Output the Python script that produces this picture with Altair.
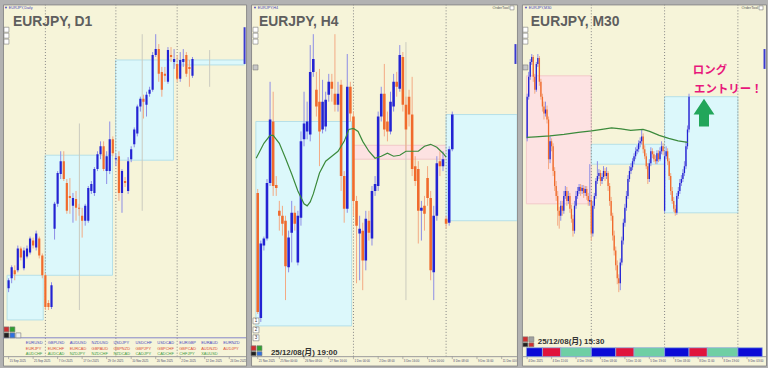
import altair as alt
import pandas as pd

# ---------------------------------------------------------------- styling
SANS = "Liberation Sans, Arial, DejaVu Sans, Noto Sans CJK JP, sans-serif"
JP = "Noto Sans CJK JP, sans-serif"
CREAM = "#f6f4d9"
FRAME = "#b2b2b2"
BULL, BEAR = "#2323d3", "#f06a2c"
BULL_WICK, BEAR_WICK = "#8c8ce6", "#f3a983"
CYAN, CYAN_EDGE = "#dcf8fb", "#b5e0e8"
PINK, PINK_EDGE = "#fde2e2", "#f2c9c9"
MA_GREEN = "#3b8a3b"
SEP_GRAY = "#858585"
MID_GRAY = "#cbcbbf"
TITLE_GRAY = "#5e5e5e"
LABEL_BLUE = "#3a3ab4"
AXIS_TEXT = "#4a4a6e"
PANEL_H = 364
STRIP_TOP = 355

# ---------------------------------------------------------------- EURJPY D1
D1_OPEN = [172.48, 172.88, 173.20, 173.20, 174.08, 173.28, 173.76, 173.92, 174.40, 174.12,
           174.48, 173.80, 173.00, 171.88, 171.72, 174.88, 175.88, 177.08, 177.60, 176.72,
           176.20, 175.80, 176.08, 175.72, 175.40, 175.20, 175.20, 176.40, 176.32, 177.28,
           177.88, 178.20, 177.20, 177.20, 178.48, 177.68, 177.80, 176.32, 176.80, 176.40,
           177.68, 178.28, 178.72, 179.80, 180.12, 179.88, 180.32, 180.48, 181.88, 182.12,
           181.20, 181.12, 180.80, 181.88, 181.60, 181.52, 180.92, 181.60, 181.88, 181.40,
           181.04]
D1_HIGH = [172.88, 173.40, 173.40, 174.20, 174.16, 174.12, 174.20, 174.56, 174.52, 174.80,
           174.56, 173.88, 173.08, 172.00, 172.72, 175.96, 177.20, 178.00, 178.00, 176.88,
           176.92, 176.32, 176.40, 175.88, 175.72, 175.88, 176.60, 176.80, 177.36, 178.00,
           178.40, 178.40, 178.00, 179.20, 178.60, 177.88, 178.00, 177.28, 176.96, 177.76,
           178.20, 178.96, 179.88, 180.20, 180.28, 180.40, 180.60, 182.00, 182.72, 182.32,
           181.40, 181.40, 182.20, 182.20, 182.12, 181.88, 182.00, 182.12, 182.00, 181.68,
           181.80]
D1_LOW = [172.32, 172.68, 172.80, 173.12, 173.60, 173.20, 173.68, 173.84, 174.08, 174.00,
          173.68, 172.88, 171.60, 171.60, 171.64, 174.44, 175.76, 176.88, 176.80, 175.48,
          175.48, 175.12, 175.20, 175.40, 174.52, 175.00, 175.12, 176.28, 176.20, 177.20,
          177.68, 177.20, 176.68, 177.08, 177.80, 177.40, 176.00, 175.52, 176.56, 176.28,
          177.56, 178.16, 178.60, 179.60, 179.32, 179.40, 180.20, 180.40, 181.80, 180.80,
          180.20, 180.80, 180.72, 181.60, 181.32, 180.80, 180.80, 181.40, 181.00, 180.60,
          180.96]
D1_CLOSE = [172.80, 173.32, 173.04, 174.08, 173.72, 174.00, 174.08, 174.48, 174.20, 174.68,
            173.80, 173.00, 171.72, 171.72, 172.60, 175.88, 177.12, 177.60, 176.88, 175.60,
            176.12, 176.12, 175.72, 175.68, 175.20, 175.80, 176.52, 176.68, 177.28, 177.88,
            178.20, 177.28, 177.80, 178.48, 177.92, 177.72, 176.32, 177.20, 176.72, 177.60,
            178.08, 178.88, 179.80, 180.12, 180.00, 180.28, 180.48, 181.88, 182.12, 181.12,
            180.48, 181.04, 182.08, 181.80, 181.72, 180.92, 181.68, 181.72, 181.12, 181.32,
            181.72]
D1_BOX_X0 = [-0.5, 11.9, 34.9, 54.1]
D1_BOX_X1 = [11.3, 33.9, 53.8, 77.0]
D1_BOX_TOP = [173.00, 177.84, 181.68, 181.68]
D1_BOX_BOTTOM = [171.20, 173.00, 177.64, 181.48]
D1_BOX_KIND = ["buy", "buy", "buy", "buy"]
D1_SEPARATORS = [12, 35, 55]
D1_MID_BAR = [23.1, 43.6, 65.6]
D1_MID_TOP = [179.12, 182.72, 182.08]
D1_MID_BOTTOM = [171.60, 175.60, 180.60]
D1_TICK_BAR = [0, 8, 16, 24, 32, 40, 48, 56, 64, 72]
D1_TICK_TEXT = ["15 Sep 2025", "25 Sep 2025", "7 Oct 2025", "17 Oct 2025", "29 Oct 2025",
                "10 Nov 2025", "20 Nov 2025", "2 Dec 2025", "12 Dec 2025", "24 Dec 2025"]
SYMBOLS_ROW1 = ["EURUSD", "GBPUSD", "AUDUSD", "NZDUSD", "USDJPY", "USDCHF", "USDCAD", "EURGBP", "EURAUD", "EURNZD"]
SYMBOLS_ROW2 = ["EURJPY", "EURCHF", "EURCAD", "GBPAUD", "GBPNZD", "GBPJPY", "GBPCHF", "GBPCAD", "AUDNZD", "AUDJPY"]
SYMBOLS_ROW3 = ["AUDCHF", "AUDCAD", "NZDJPY", "NZDCHF", "NZDCAD", "CADJPY", "CADCHF", "CHFJPY", "XAUUSD"]

# ---------------------------------------------------------------- EURJPY H4
H4_OPEN = [181.464, 180.456, 181.040, 181.096, 181.544, 182.040, 181.528, 181.320, 181.280, 181.240,
           180.864, 181.144, 181.304, 180.904, 181.264, 181.896, 181.960, 181.936, 182.440, 182.296,
           182.200, 181.976, 182.000, 182.256, 182.360, 182.264, 182.176, 182.336, 181.600, 181.336,
           182.320, 182.080, 181.400, 181.136, 181.160, 180.920, 181.240, 181.096, 181.480, 181.520,
           182.080, 182.264, 182.040, 181.960, 182.160, 182.360, 182.304, 182.560, 182.176, 182.240,
           182.096, 181.680, 181.656, 181.320, 181.360, 181.584, 181.424, 180.824, 181.280, 181.720,
           181.680, 181.256, 181.224, 181.816]
H4_HIGH = [181.496, 181.080, 181.112, 181.576, 182.360, 182.280, 181.600, 181.400, 181.360, 181.280,
           181.160, 181.400, 181.360, 181.320, 181.960, 182.280, 182.200, 182.656, 182.744, 182.440,
           182.464, 182.376, 182.280, 182.424, 182.424, 182.744, 182.360, 182.376, 181.640, 182.584,
           182.360, 182.120, 181.440, 181.280, 181.224, 181.320, 181.320, 181.520, 181.600, 182.120,
           182.320, 182.504, 182.120, 182.280, 182.424, 182.440, 182.656, 182.600, 182.240, 182.296,
           182.400, 181.760, 181.720, 181.400, 181.440, 181.680, 181.480, 181.360, 181.760, 181.800,
           181.800, 181.280, 181.840, 182.120]
H4_LOW = [180.488, 180.424, 181.000, 181.080, 181.520, 181.440, 181.440, 181.160, 181.120, 180.600,
          180.824, 180.904, 181.160, 180.880, 181.200, 181.840, 181.896, 181.880, 182.400, 182.080,
          181.680, 181.944, 181.960, 182.200, 182.200, 182.120, 182.120, 181.480, 181.224, 181.304,
          182.040, 181.280, 180.736, 180.760, 180.680, 180.840, 181.080, 181.040, 181.440, 181.480,
          182.040, 181.920, 181.880, 181.936, 182.120, 182.240, 182.280, 182.120, 181.800, 182.000,
          181.600, 181.520, 181.056, 181.080, 181.160, 181.360, 180.760, 180.600, 181.240, 181.600,
          181.640, 181.176, 181.200, 181.800]
H4_CLOSE = [180.504, 181.056, 181.096, 181.544, 182.056, 181.520, 181.504, 181.280, 181.216, 180.872,
            181.104, 181.304, 181.216, 181.280, 181.880, 182.024, 182.040, 182.440, 182.544, 182.160,
            181.960, 182.200, 182.216, 182.360, 182.304, 182.176, 182.264, 181.600, 181.336, 182.320,
            182.104, 181.400, 181.200, 181.176, 180.920, 181.256, 181.144, 181.480, 181.536, 182.080,
            182.264, 181.976, 181.960, 182.200, 182.360, 182.320, 182.576, 182.176, 181.976, 182.096,
            181.656, 181.560, 181.320, 181.344, 181.296, 181.424, 180.840, 181.280, 181.704, 181.680,
            181.736, 181.216, 181.816, 182.096]
H4_MA_BAR = [-0.5, 2, 4, 5, 7, 9, 11, 13, 15, 16, 17, 18, 20, 22, 24, 26, 28, 29.5, 31, 32.5,
             34, 36, 38, 40, 42, 44, 46, 48, 50, 52, 54, 56, 58, 60, 61]
H4_MA = [181.744, 181.864, 181.928, 181.928, 181.864, 181.744, 181.616, 181.480, 181.376, 181.360,
         181.392, 181.456, 181.624, 181.720, 181.760, 181.800, 181.880, 181.976, 181.984, 181.960,
         181.880, 181.800, 181.744, 181.760, 181.784, 181.760, 181.768, 181.800, 181.800, 181.800,
         181.840, 181.856, 181.832, 181.784, 181.752]
H4_BOX_X0 = [-0.6, 31, 61]
H4_BOX_X1 = [30.4, 61, 84]
H4_BOX_TOP = [182.040, 181.848, 182.096]
H4_BOX_BOTTOM = [180.392, 181.736, 181.240]
H4_BOX_KIND = ["buy", "sell", "buy"]
H4_SEPARATORS = [31, 61]
H4_MID_BAR = [48]
H4_MID_TOP = [182.68]
H4_MID_BOTTOM = [180.60]
H4_TICK_BAR = [0, 7, 15, 23, 31, 39, 47, 55, 63, 71, 79]
H4_TICK_TEXT = ["21 Nov 2025", "25 Nov 00:00", "26 Nov 08:00", "27 Nov 16:00", "1 Dec 00:00",
                "2 Dec 08:00", "3 Dec 16:00", "5 Dec 00:00", "8 Dec 08:00", "9 Dec 16:00", "11 Dec 00:00"]

# ---------------------------------------------------------------- EURJPY M30
M30_OPEN = [
    181.315, 181.525, 181.625, 181.700, 181.725, 181.625, 181.560, 181.690, 181.720, 181.600,
    181.525, 181.475, 181.440, 181.460, 181.410, 181.210, 181.300, 181.275, 181.150, 181.075,
    181.025, 180.950, 180.925, 180.975, 180.950, 181.025, 181.050, 181.000, 181.025, 180.960,
    180.910, 180.850, 180.975, 181.025, 181.050, 181.070, 181.050, 181.065, 181.040, 181.060,
    181.025, 180.995, 181.005, 180.835, 180.975, 181.025, 181.100, 181.125, 181.140, 181.100,
    181.120, 181.150, 181.125, 181.140, 181.075, 181.000, 180.925, 180.825, 180.750, 180.675,
    180.610, 180.585, 180.690, 180.800, 180.890, 180.965, 181.025, 181.110, 181.150, 181.170,
    181.200, 181.225, 181.250, 181.260, 181.290, 181.300, 181.325, 181.260, 181.225, 181.175,
    181.110, 181.190, 181.250, 181.235, 181.210, 181.200, 181.240, 181.210, 181.250, 181.275,
    180.950, 181.225, 181.250, 181.200, 181.125, 181.050, 181.000, 180.960, 180.940, 181.025,
    181.050, 181.090, 181.110, 181.140, 181.175, 181.275, 181.360]
M30_HIGH = [
    181.540, 181.650, 181.715, 181.740, 181.735, 181.640, 181.700, 181.740, 181.730, 181.615,
    181.540, 181.500, 181.500, 181.480, 181.425, 181.325, 181.315, 181.290, 181.170, 181.100,
    181.050, 180.970, 181.000, 181.000, 181.050, 181.075, 181.070, 181.050, 181.040, 180.980,
    180.930, 181.000, 181.050, 181.070, 181.085, 181.085, 181.080, 181.080, 181.075, 181.075,
    181.040, 181.185, 181.025, 181.000, 181.040, 181.115, 181.200, 181.160, 181.155, 181.140,
    181.175, 181.165, 181.170, 181.150, 181.090, 181.020, 180.940, 180.850, 180.770, 180.700,
    180.630, 180.710, 180.820, 180.910, 180.985, 181.050, 181.130, 181.175, 181.190, 181.215,
    181.240, 181.270, 181.280, 181.305, 181.320, 181.360, 181.340, 181.280, 181.240, 181.190,
    181.210, 181.270, 181.265, 181.250, 181.230, 181.255, 181.255, 181.270, 181.300, 181.290,
    181.250, 181.275, 181.265, 181.215, 181.140, 181.070, 181.020, 180.980, 181.040, 181.070,
    181.110, 181.130, 181.160, 181.200, 181.300, 181.380, 181.540]
M30_LOW = [
    181.300, 181.510, 181.610, 181.685, 181.600, 181.540, 181.550, 181.675, 181.580, 181.510,
    181.450, 181.410, 181.425, 181.390, 181.160, 181.190, 181.250, 181.125, 181.050, 181.000,
    180.875, 180.860, 180.900, 180.925, 180.935, 181.010, 180.975, 180.985, 180.940, 180.890,
    180.820, 180.835, 180.960, 181.010, 181.035, 181.025, 181.035, 181.015, 181.025, 181.005,
    180.975, 180.975, 180.800, 180.820, 180.960, 181.010, 181.085, 181.110, 181.075, 181.085,
    181.110, 181.100, 181.110, 181.050, 180.975, 180.900, 180.800, 180.725, 180.650, 180.580,
    180.540, 180.550, 180.675, 180.780, 180.870, 180.950, 181.010, 181.095, 181.135, 181.155,
    181.185, 181.210, 181.235, 181.245, 181.270, 181.285, 181.240, 181.210, 181.160, 181.085,
    181.095, 181.175, 181.215, 181.195, 181.185, 181.185, 181.195, 181.200, 181.235, 181.230,
    180.940, 181.210, 181.180, 181.105, 181.030, 180.985, 180.945, 180.925, 180.930, 181.010,
    181.035, 181.075, 181.095, 181.125, 181.160, 181.260, 181.345]
M30_CLOSE = [
    181.525, 181.625, 181.700, 181.725, 181.625, 181.560, 181.690, 181.720, 181.600, 181.525,
    181.475, 181.440, 181.460, 181.410, 181.210, 181.300, 181.275, 181.150, 181.075, 181.025,
    180.950, 180.925, 180.975, 180.950, 181.025, 181.050, 181.000, 181.025, 180.960, 180.910,
    180.850, 180.975, 181.025, 181.050, 181.070, 181.050, 181.065, 181.040, 181.060, 181.025,
    181.000, 181.005, 180.835, 180.975, 181.025, 181.100, 181.125, 181.140, 181.100, 181.120,
    181.150, 181.125, 181.140, 181.075, 181.000, 180.925, 180.825, 180.750, 180.675, 180.610,
    180.585, 180.690, 180.800, 180.890, 180.965, 181.025, 181.110, 181.150, 181.170, 181.200,
    181.225, 181.250, 181.260, 181.290, 181.300, 181.325, 181.260, 181.225, 181.175, 181.110,
    181.190, 181.250, 181.235, 181.210, 181.200, 181.240, 181.210, 181.250, 181.275, 181.250,
    181.225, 181.250, 181.200, 181.125, 181.050, 181.000, 180.960, 180.940, 181.025, 181.050,
    181.090, 181.110, 181.140, 181.175, 181.275, 181.360, 181.525]
M30_MA_BAR = [-0.2, 5.4, 14.8, 24.1, 33.5, 42.2, 49, 55.3, 61.5, 67.8, 75.9, 80.2, 86.5, 92.7, 98.9, 105.2]
M30_MA = [181.3200, 181.3225, 181.3275, 181.3350, 181.3450, 181.3525, 181.3600, 181.3675,
          181.3625, 181.3550, 181.3600, 181.3500, 181.3300, 181.3150, 181.3025, 181.2950]
M30_BOX_X0 = [-0.5, 42, 90]
M30_BOX_X1 = [42, 90, 138]
M30_BOX_TOP = [181.630, 181.285, 181.525]
M30_BOX_BOTTOM = [180.985, 181.185, 180.940]
M30_BOX_KIND = ["sell", "buy", "buy"]
M30_SEPARATORS = [42, 90, 138]
M30_TICK_BAR = [0, 16, 32, 48, 64, 80, 96, 112, 128, 144]
M30_TICK_TEXT = ["4 Dec 2025", "4 Dec 11:00", "4 Dec 19:00", "5 Dec 03:00", "5 Dec 11:00",
                 "5 Dec 19:00", "8 Dec 03:00", "8 Dec 11:00", "8 Dec 19:00", "9 Dec 03:00"]
SESSION_START = [-0.5, 10, 22, 42, 58, 70, 90, 106, 118, 138]
SESSION_END = [10, 22, 42, 58, 70, 90, 106, 118, 138, 154]
SESSION_NAME = ["Tokyo", "London", "NewYork", "Tokyo", "London", "NewYork",
                "Tokyo", "London", "NewYork", "Tokyo"]

ONE = pd.DataFrame({"k": [0]})


# ---------------------------------------------------------------- helpers
def ui_text(txt, x, y, size, color, weight="normal", align="left", font=SANS):
    return alt.Chart(pd.DataFrame({"t": [txt]})).mark_text(
        align=align, baseline="middle", fontSize=size, fontWeight=weight,
        font=font, color=color, clip=True,
    ).encode(x=alt.value(x), y=alt.value(y), text="t:N")


def ui_box(x, y, w, h, fill, stroke="#7a7a7a"):
    return alt.Chart(ONE).mark_rect(fill=fill, stroke=stroke, strokeWidth=0.6).encode(
        x=alt.value(x), x2=alt.value(x + w), y=alt.value(y), y2=alt.value(y + h))


def ui_hline(y, x0, x1, color, width=1.0):
    return alt.Chart(ONE).mark_rule(color=color, strokeWidth=width).encode(
        x=alt.value(x0), x2=alt.value(x1), y=alt.value(y))


def ui_vline(x, y0, y1, color, width=2.0):
    return alt.Chart(ONE).mark_rule(color=color, strokeWidth=width).encode(
        x=alt.value(x), y=alt.value(y0), y2=alt.value(y1))


def nav_buttons(x):
    return [ui_box(x, 23, 5, 5, "#ffffff"), ui_box(x, 29, 5, 5, "#ffffff"),
            ui_box(x, 35, 5, 5, "#ffffff")]


def price_panel(width, xdom, ydom, o, h, l, c, body_w, box, seps, mids, ma, ticks):
    xsc = alt.Scale(domain=xdom, nice=False, zero=False)
    ysc = alt.Scale(domain=ydom, nice=False, zero=False)

    def X(f):
        return alt.X(f, scale=xsc, axis=None)

    def Y(f):
        return alt.Y(f, scale=ysc, axis=None)

    layers = []
    # range boxes
    bx = pd.DataFrame({"x0": box[0], "x1": box[1], "top": box[2], "bottom": box[3], "kind": box[4]})
    layers.append(alt.Chart(bx).transform_calculate(
        fillc=f"datum.kind == 'sell' ? '{PINK}' : '{CYAN}'",
        edgec=f"datum.kind == 'sell' ? '{PINK_EDGE}' : '{CYAN_EDGE}'",
    ).mark_rect(strokeWidth=1, clip=True).encode(
        x=X("x0:Q"), x2="x1:Q", y=Y("top:Q"), y2="bottom:Q",
        fill=alt.Fill("fillc:N", scale=None), stroke=alt.Stroke("edgec:N", scale=None)))
    # box mid lines
    if mids is not None:
        md = pd.DataFrame({"bar": mids[0], "top": mids[1], "bottom": mids[2]})
        layers.append(alt.Chart(md).mark_rule(color=MID_GRAY, strokeWidth=1, clip=True).encode(
            x=X("bar:Q"), y=Y("top:Q"), y2="bottom:Q"))
    # period separators
    sd = pd.DataFrame({"bar": seps})
    layers.append(alt.Chart(sd).mark_rule(color=SEP_GRAY, strokeWidth=1, strokeDash=[1, 2], clip=True).encode(
        x=X("bar:Q"), y=alt.value(0), y2=alt.value(STRIP_TOP)))
    # candles
    cd = pd.DataFrame({"bar": list(range(len(o))), "open": o, "high": h, "low": l, "close": c})
    base = alt.Chart(cd).transform_calculate(
        wickc=f"datum.close >= datum.open ? '{BULL_WICK}' : '{BEAR_WICK}'",
        bodyc=f"datum.close >= datum.open ? '{BULL}' : '{BEAR}'",
    )
    layers.append(base.mark_rule(strokeWidth=1, clip=True).encode(
        x=X("bar:Q"), y=Y("low:Q"), y2="high:Q", color=alt.Color("wickc:N", scale=None)))
    layers.append(base.mark_bar(size=body_w, clip=True).encode(
        x=X("bar:Q"), y=Y("open:Q"), y2="close:Q", color=alt.Color("bodyc:N", scale=None)))
    # moving average
    if ma is not None:
        mad = pd.DataFrame({"bar": ma[0], "ma": ma[1]})
        layers.append(alt.Chart(mad).mark_line(color=MA_GREEN, strokeWidth=1.2, clip=True).encode(
            x=X("bar:Q"), y=Y("ma:Q")))
    # time strip
    layers.append(ui_hline(STRIP_TOP, 0, width, "#9b9b9b"))
    td = pd.DataFrame({"bar": ticks[0], "label": ticks[1]})
    layers.append(alt.Chart(td).mark_rule(color="#8a8a8a", strokeWidth=0.6, clip=True).encode(
        x=X("bar:Q"), y=alt.value(STRIP_TOP), y2=alt.value(STRIP_TOP + 2.5)))
    layers.append(alt.Chart(td).mark_text(
        align="left", baseline="middle", dx=1, fontSize=2.9, font=SANS, color=AXIS_TEXT, clip=True,
    ).encode(x=X("bar:Q"), y=alt.value(359.7), text="label:N"))
    return layers


# ---------------------------------------------------------------- D1 panel
W1, W2, W3 = 245, 268, 246
d1 = price_panel(
    W1, [-0.217, 75.87], [169.36, 183.92], D1_OPEN, D1_HIGH, D1_LOW, D1_CLOSE, 2.2,
    (D1_BOX_X0, D1_BOX_X1, D1_BOX_TOP, D1_BOX_BOTTOM, D1_BOX_KIND),
    D1_SEPARATORS, (D1_MID_BAR, D1_MID_TOP, D1_MID_BOTTOM), None,
    (D1_TICK_BAR, D1_TICK_TEXT))
d1.append(ui_hline(336, 0, W1, "#8585c8"))
for row, (names, colr) in enumerate([(SYMBOLS_ROW1, "#4646c0"), (SYMBOLS_ROW2, "#dc4a32"),
                                     (SYMBOLS_ROW3, "#3f9a3f")]):
    for col, name in enumerate(names):
        d1.append(ui_text(name, 23 + 22.1 * col, 341.3 + 5.7 * row, 4.0, colr))
d1 += [
    ui_text("▼ EURJPY,Daily", 1, 3.5, 3.8, LABEL_BLUE),
    ui_text("EURJPY, D1", 10, 17.5, 14, TITLE_GRAY, "bold"),
    ui_box(1, 325, 5, 5, "#d03030"), ui_box(7, 325, 5, 5, "#30a030"),
    ui_box(1, 331, 5, 5, "#202020"), ui_box(7, 331, 5, 5, "#3070e0"), ui_box(13, 331, 5, 5, "#f0f0f0"),
    ui_vline(243.5, 23, 60, "#3a3ad0"),
] + nav_buttons(1)
panel1 = alt.layer(*d1).properties(width=W1, height=PANEL_H)

# ---------------------------------------------------------------- H4 panel
h4 = price_panel(
    W2, [-0.557, 82.34], [180.072, 182.984], H4_OPEN, H4_HIGH, H4_LOW, H4_CLOSE, 2.6,
    (H4_BOX_X0, H4_BOX_X1, H4_BOX_TOP, H4_BOX_BOTTOM, H4_BOX_KIND),
    H4_SEPARATORS, (H4_MID_BAR, H4_MID_TOP, H4_MID_BOTTOM), (H4_MA_BAR, H4_MA),
    (H4_TICK_BAR, H4_TICK_TEXT))
h4 += [
    ui_text("▼ EURJPY,H4", 2, 3.5, 3.8, LABEL_BLUE),
    ui_text("OrderTool", 260, 3.5, 3.8, "#555555", align="right"),
    ui_box(261, 1.5, 4, 4, "#ffffff"),
    ui_text("EURJPY, H4", 8, 17.5, 14, TITLE_GRAY, "bold"),
    ui_box(2, 61, 5, 5, "#c8c8c8"),
    ui_box(2, 316, 6, 6, "#ffffff"), ui_box(2, 325, 6, 6, "#ffffff"), ui_box(2, 333, 6, 6, "#ffffff"),
    ui_text("1", 5, 319, 4.5, "#333333", align="center"),
    ui_text("2", 5, 328, 4.5, "#333333", align="center"),
    ui_text("3", 5, 336, 4.5, "#333333", align="center"),
    ui_box(0, 344, 5, 5, "#d03030"), ui_box(6, 344, 5, 5, "#30a030"),
    ui_box(0, 350, 5, 4, "#202020"), ui_box(6, 350, 5, 4, "#3070e0"),
    ui_text("25/12/08(月) 19:00", 20, 351, 8, "#333333", "bold"),
    ui_vline(266.5, 40, 60, "#3a3ad0"),
] + nav_buttons(2)
panel2 = alt.layer(*h4).properties(width=W2, height=PANEL_H)

# ---------------------------------------------------------------- M30 panel
m30 = price_panel(
    W3, [-0.187, 153.18], [180.17, 181.99], M30_OPEN, M30_HIGH, M30_LOW, M30_CLOSE, 1.3,
    (M30_BOX_X0, M30_BOX_X1, M30_BOX_TOP, M30_BOX_BOTTOM, M30_BOX_KIND),
    M30_SEPARATORS, None, (M30_MA_BAR, M30_MA), (M30_TICK_BAR, M30_TICK_TEXT))
sess = pd.DataFrame({"start": SESSION_START, "end": SESSION_END, "session": SESSION_NAME})
m30.append(alt.Chart(sess).transform_calculate(
    sc="datum.session == 'Tokyo' ? '#0b0bd6' : (datum.session == 'London' ? '#e0143c' : '#6fcfa4')"
).mark_rect(stroke="#8faadc", strokeWidth=0.8, clip=True).encode(
    x=alt.X("start:Q", scale=alt.Scale(domain=[-0.187, 153.18], nice=False, zero=False), axis=None),
    x2="end:Q", y=alt.value(346), y2=alt.value(STRIP_TOP),
    fill=alt.Fill("sc:N", scale=None)))
entry_arrow = "M0,-1L0.75,0.14L0.36,0.14L0.36,1L-0.36,1L-0.36,0.14L-0.75,0.14Z"
m30 += [
    ui_text("▼ EURJPY,M30", 2, 3.5, 3.8, LABEL_BLUE),
    ui_text("OrderTool", 238, 3.5, 3.8, "#555555", align="right"),
    ui_box(239, 1.5, 4, 4, "#ffffff"),
    ui_text("EURJPY, M30", 9, 17.5, 14, TITLE_GRAY, "bold"),
    ui_box(1, 61, 5, 5, "#c8c8c8"),
    ui_box(1, 335, 5, 5, "#d03030"), ui_box(7, 335, 5, 5, "#a0a0a0"),
    ui_box(1, 341, 5, 4, "#202020"), ui_box(7, 341, 5, 4, "#d03030"),
    ui_text("25/12/08(月) 15:30", 16, 340, 8, "#333333", "bold"),
    ui_vline(244.5, 45, 65, "#3a3ad0"),
    alt.Chart(ONE).mark_point(shape=entry_arrow, size=784, filled=True, color="#22a65a", opacity=1).encode(
        x=alt.value(183.5), y=alt.value(109)),
]
# entry callout, two lines in magenta
for txt, cx, cy in [("ロング", 189.5, 67.5), ("エントリー！", 208, 86)]:
    m30.append(alt.Chart(pd.DataFrame({"t": [txt]})).mark_text(
        align="center", baseline="middle", fontSize=11.5, fontWeight="bold", font=JP, color="#e8177b",
    ).encode(x=alt.value(cx), y=alt.value(cy), text="t:N"))
m30 += nav_buttons(1)
panel3 = alt.layer(*m30).properties(width=W3, height=PANEL_H)

chart = alt.hconcat(panel1, panel2, panel3, spacing=3).properties(
    background=FRAME,
    padding={"left": 2, "top": 2, "right": 1, "bottom": 2},
).configure_view(fill=CREAM, stroke="#8c8c8c", strokeWidth=1)

chart.save("out.html", embed_options={"renderer": "svg", "actions": False})
